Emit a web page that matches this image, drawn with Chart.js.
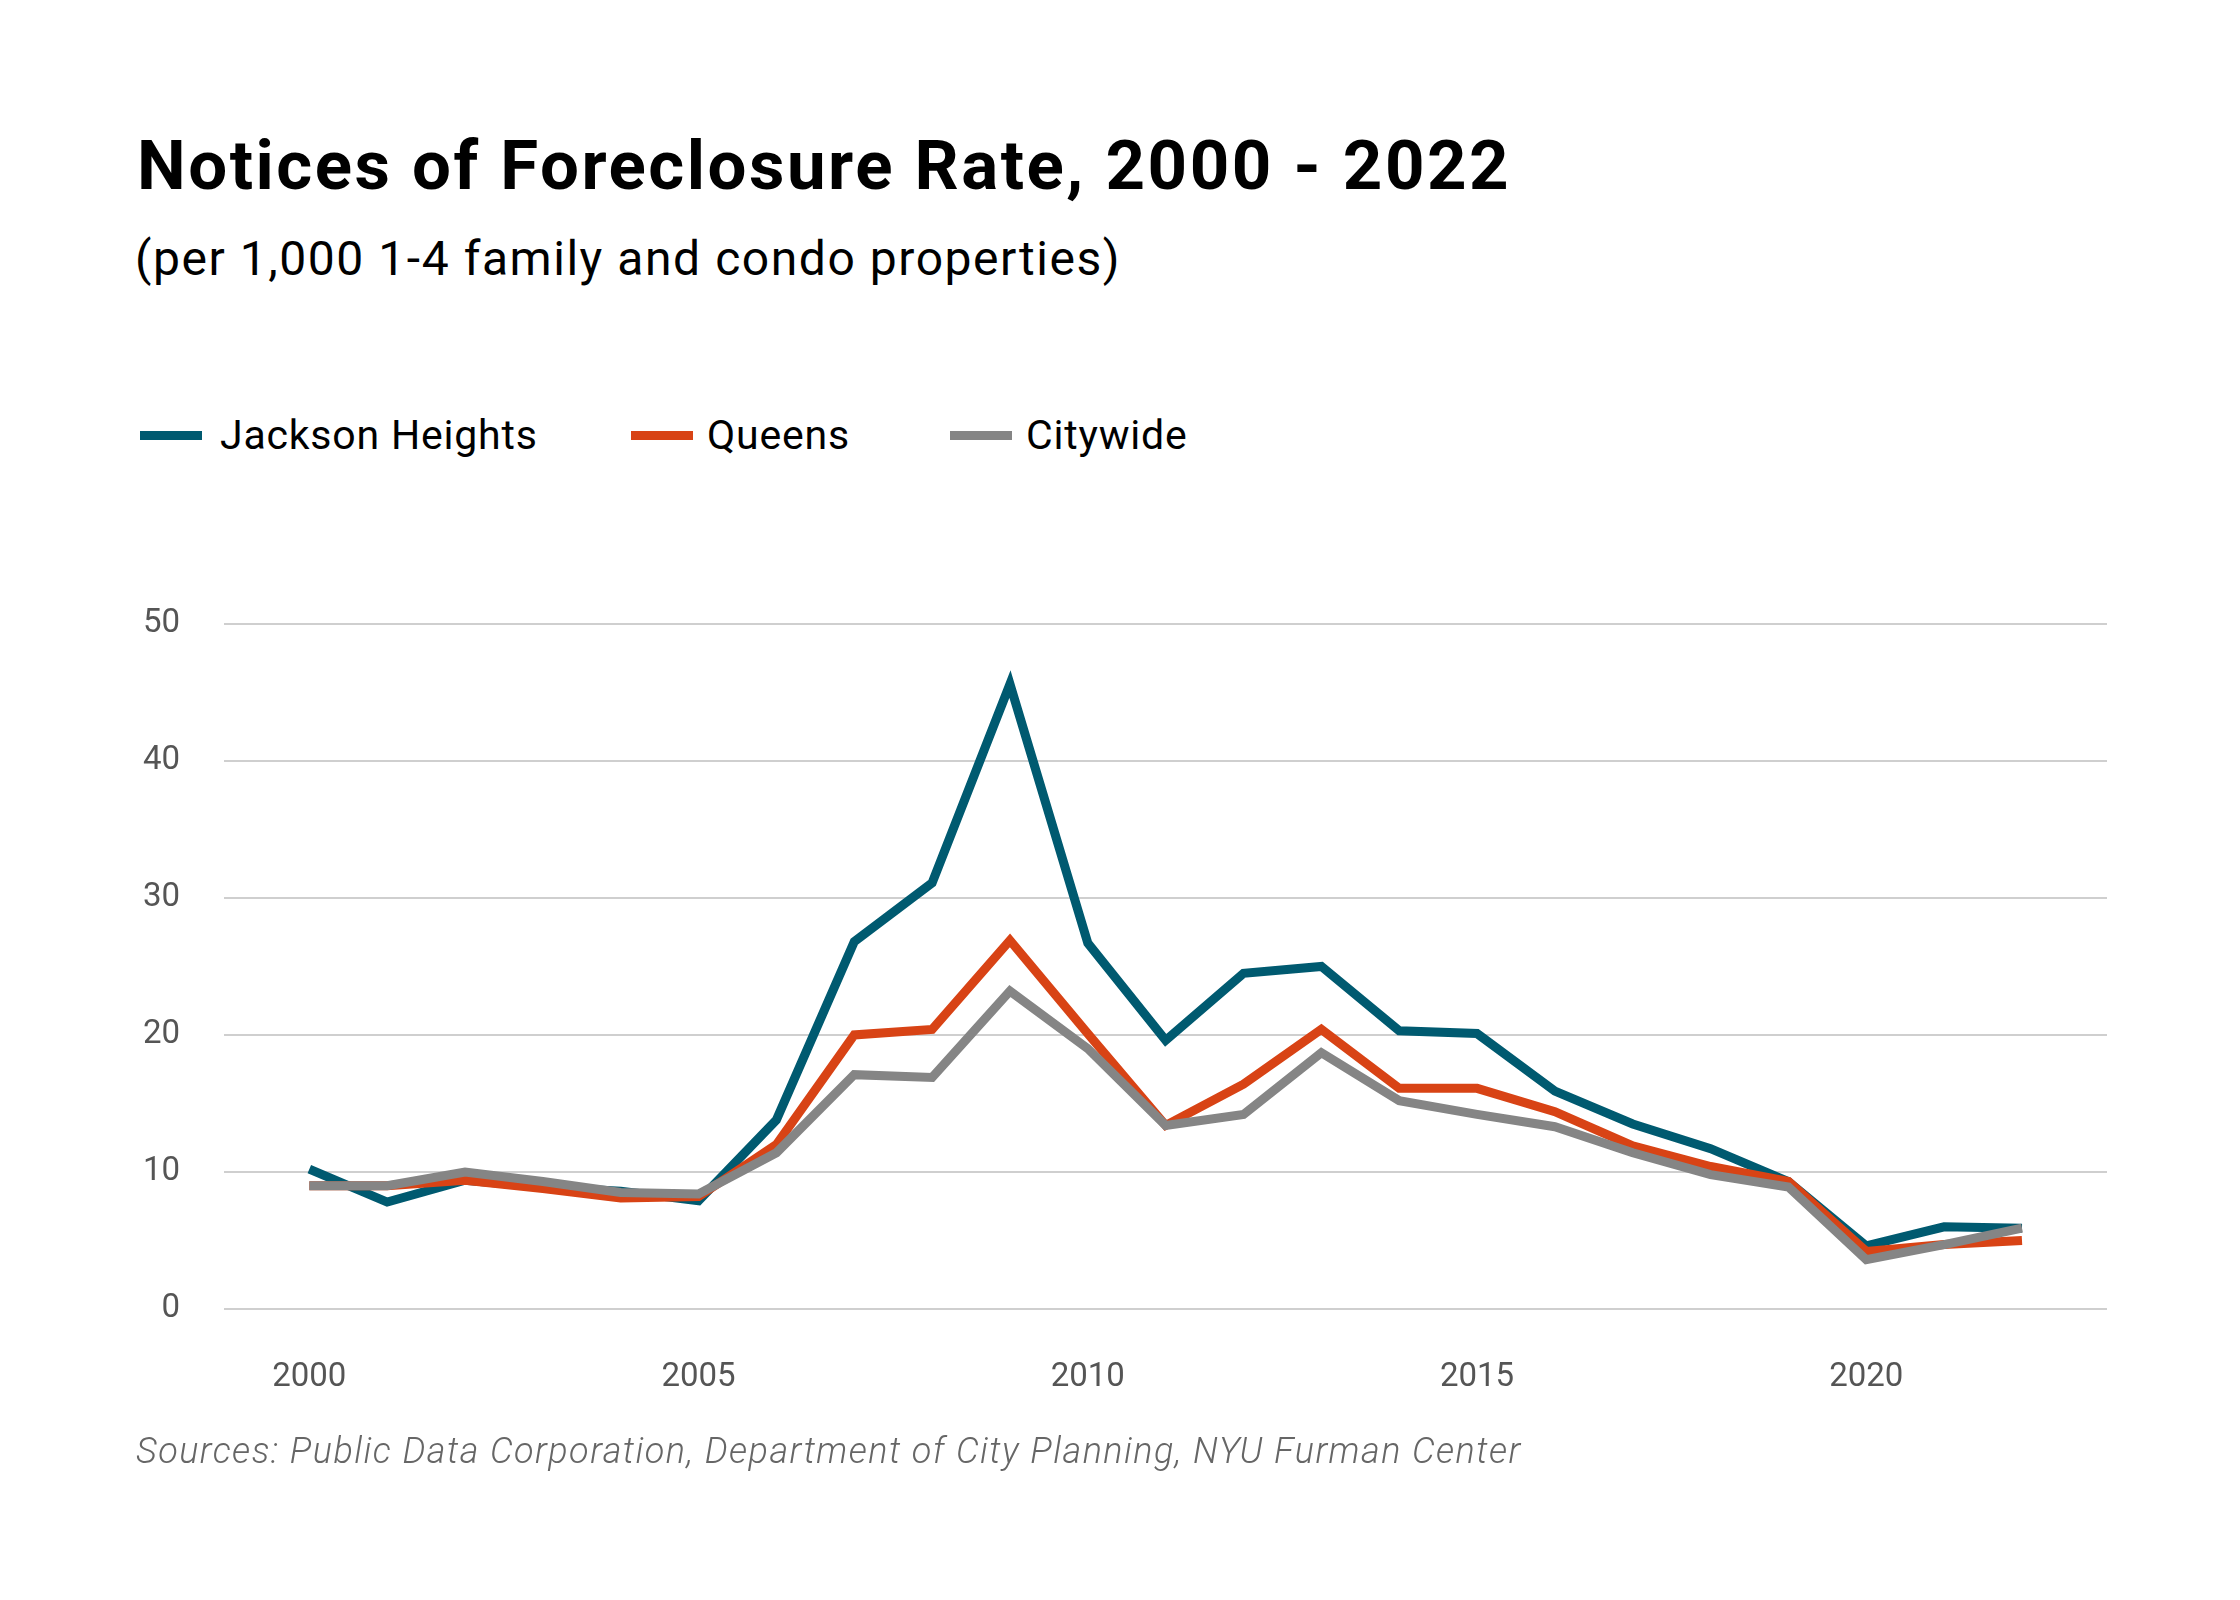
<!DOCTYPE html>
<html>
<head>
<meta charset="utf-8">
<script src="https://cdn.jsdelivr.net/npm/chart.js@4.4.1/dist/chart.umd.min.js"></script>
<style>
  html, body { margin: 0; padding: 0; background: #fff; }
  body { width: 2240px; height: 1600px; position: relative; font-family: Roboto, "Noto Sans", sans-serif; color: #000; }
  .abs { position: absolute; white-space: nowrap; line-height: 1; }
  #title { left: 137px; top: 131px; font-size: 69px; font-weight: 700; letter-spacing: 2.5px; }
  #subtitle { left: 135px; top: 235px; font-size: 48px; letter-spacing: 1.55px; }
  .leg { top: 415px; font-size: 41px; letter-spacing: 0.8px; }
  .sw { position: absolute; top: 431px; width: 62px; height: 9px; }
  #source { left: 136px; top: 1433px; font-size: 36px; font-style: italic; color: #666; font-weight: 300; letter-spacing: 1.45px; }
  #wrap { position: absolute; left: 0; top: 560px; width: 2240px; height: 880px; }
</style>
</head>
<body>
<div id="title" class="abs">Notices of Foreclosure Rate, 2000 - 2022</div>
<div id="subtitle" class="abs">(per 1,000 1-4 family and condo properties)</div>

<div class="sw" style="left:140px;background:#005a70"></div>
<div class="abs leg" style="left:220px">Jackson Heights</div>
<div class="sw" style="left:631px;background:#d84315"></div>
<div class="abs leg" style="left:707px">Queens</div>
<div class="sw" style="left:950px;background:#858585"></div>
<div class="abs leg" style="left:1026px">Citywide</div>

<div id="wrap"><canvas id="chart"></canvas></div>

<div id="source" class="abs">Sources: Public Data Corporation, Department of City Planning, NYU Furman Center</div>

<script>
const years = [2000, 2001, 2002, 2003, 2004, 2005, 2006, 2007, 2008, 2009, 2010, 2011,
               2012, 2013, 2014, 2015, 2016, 2017, 2018, 2019, 2020, 2021, 2022];
const jacksonHeights = [10.2, 7.8, 9.4, 8.9, 8.6, 7.9, 13.8, 26.8, 31.1, 45.6, 26.7, 19.6,
                        24.5, 25.0, 20.3, 20.1, 15.9, 13.5, 11.7, 9.3, 4.6, 6.0, 5.9];
const queens = [9.0, 9.0, 9.4, 8.8, 8.1, 8.2, 12.0, 20.0, 20.4, 26.9, 20.1, 13.4,
                16.4, 20.4, 16.1, 16.1, 14.4, 11.9, 10.4, 9.3, 4.2, 4.7, 5.0];
const citywide = [9.0, 9.0, 10.0, 9.3, 8.5, 8.4, 11.4, 17.1, 16.9, 23.2, 19.0, 13.4,
                  14.2, 18.7, 15.2, 14.2, 13.3, 11.4, 9.8, 8.9, 3.6, 4.7, 5.9];
const xTicks = [2000, 2005, 2010, 2015, 2020];
const yTicks = [0, 10, 20, 30, 40, 50];

function pts(vals) {
  return years.map((y, i) => ({ x: y, y: vals[i] }));
}

const lineStyle = { borderWidth: 9, pointRadius: 0, fill: false, tension: 0, borderJoinStyle: 'miter', borderCapStyle: 'butt' };

// canvas box starts at y=560; plot area should sit at 224..2107 x 621..1309
new Chart(document.getElementById('chart'), {
  type: 'line',
  data: {
    datasets: [
      { label: 'Jackson Heights', data: pts(jacksonHeights), borderColor: '#005a70', order: 2, ...lineStyle },
      { label: 'Queens', data: pts(queens), borderColor: '#d84315', order: 1, ...lineStyle },
      { label: 'Citywide', data: pts(citywide), borderColor: '#858585', order: 0, ...lineStyle }
    ]
  },
  options: {
    responsive: true,
    maintainAspectRatio: false,
    animation: false,
    layout: { padding: { top: 61, right: 133, left: 0, bottom: 0 } },
    plugins: { legend: { display: false }, tooltip: { enabled: false } },
    scales: {
      x: {
        type: 'linear',
        min: 1998.904,
        max: 2023.092,
        afterBuildTicks: s => { s.ticks = xTicks.map(v => ({ value: v })); },
        afterFit: s => { s.height = 880 - 61 - 688; },
        grid: { display: false, drawTicks: false },
        border: { display: false },
        ticks: { padding: 49, color: '#555', font: { family: 'Roboto', size: 33 }, callback: v => String(v) }
      },
      y: {
        min: 0,
        max: 50,
        afterBuildTicks: s => { s.ticks = yTicks.map(v => ({ value: v })); },
        afterFit: s => { s.width = 224; },
        grid: { color: '#cfcfcf', lineWidth: 2, drawTicks: false },
        border: { display: false },
        ticks: { padding: 44, color: '#555', font: { family: 'Roboto', size: 33 } }
      }
    }
  }
});
</script>
</body>
</html>
